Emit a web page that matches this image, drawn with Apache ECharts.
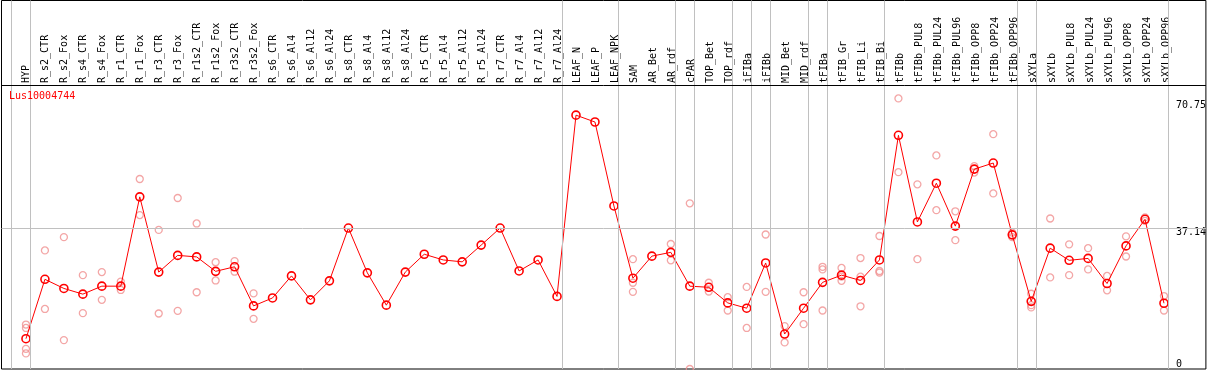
<!DOCTYPE html>
<html>
<head>
<meta charset="utf-8">
<script src="https://cdn.jsdelivr.net/npm/echarts@6/dist/echarts.min.js"></script>
<style>html,body{margin:0;padding:0;background:#fff}#c{width:1209px;height:370px}</style>
</head>
<body>
<div id="c"></div>
<script>
const title = 'Lus10004744';
const categories = ['HYP','R_s2_CTR','R_s2_Fox','R_s4_CTR','R_s4_Fox','R_r1_CTR','R_r1_Fox','R_r3_CTR','R_r3_Fox','R_r1s2_CTR','R_r1s2_Fox','R_r3s2_CTR','R_r3s2_Fox','R_s6_CTR','R_s6_Al4','R_s6_Al12','R_s6_Al24','R_s8_CTR','R_s8_Al4','R_s8_Al12','R_s8_Al24','R_r5_CTR','R_r5_Al4','R_r5_Al12','R_r5_Al24','R_r7_CTR','R_r7_Al4','R_r7_Al12','R_r7_Al24','LEAF_N','LEAF_P','LEAF_NPK','SAM','AR_Bet','AR_rdf','cPAR','TOP_Bet','TOP_rdf','iFIBa','iFIBb','MID_Bet','MID_rdf','tFIBa','tFIB_Gr','tFIB_Li','tFIB_Bi','tFIBb','tFIBb_PUL8','tFIBb_PUL24','tFIBb_PUL96','tFIBb_OPP8','tFIBb_OPP24','tFIBb_OPP96','sXYLa','sXYLb','sXYLb_PUL8','sXYLb_PUL24','sXYLb_PUL96','sXYLb_OPP8','sXYLb_OPP24','sXYLb_OPP96'];
const means = [7.97,23.6,21.2,19.7,21.8,21.8,45.3,25.5,29.9,29.5,25.7,26.9,16.6,18.7,24.5,18.2,23.2,37.1,25.3,16.8,25.5,30.2,28.7,28.2,32.6,37.1,25.8,28.7,19.1,66.8,65.0,42.9,23.9,29.7,30.7,21.8,21.5,17.4,16.0,27.9,9.2,16.0,22.8,24.7,23.3,28.7,61.5,38.7,48.9,37.6,52.6,54.2,35.3,17.8,31.8,28.6,29.1,22.5,32.4,39.4,17.3];
const replicates = [
  [11.7,10.8,5.3,4.1],[31.2,15.8],[34.7,7.6],[24.7,14.7],[25.5,18.2],[23.0,20.8],[50.0,40.5],[36.6,14.6],[45.0,15.3],[38.3,20.2],[28.1,23.3],[28.4,25.6],[19.9,13.2],
  [],[],[],[],[],[],[],[],[],[],[],[],[],[],[],[],[],[],[],
  [28.9,22.7,20.3],[],[32.9,28.6],[43.6,0.0],[22.7,20.4],[18.9,15.4],[21.6,10.8],[35.4,20.3],[11.3,7.0],[20.2,11.8],[26.9,26.2,15.4],[26.6,23.2,24.3],[29.2,24.3,16.5],[35.0,25.8,25.4],
  [71.2,51.8],[48.6,28.9],[56.2,41.8],[41.5,33.9],[53.4,51.7],[61.8,46.2],[35.9,34.7],[19.8,16.8,16.2],[39.6,24.1],[32.8,24.7],[31.8,26.2],[24.5,20.7],[34.9,29.6],[39.9,39.0],[19.2,15.4]
];
// group boundaries: number of categories before each separator
const groupBreaks = [0,1,29,32,35,36,38,39,40,42,43,46,53,54,61];
const yTickValues = [37.14, 70.75];
const yZeroTick = [0];
const gridLineValue = 37.14;

const FONT = 'DejaVu Sans Mono';
const meanData = means.map((v,i)=>[i,v]);
const repData = [];
replicates.forEach((arr,i)=>arr.forEach(v=>repData.push([i,v])));

const chart = echarts.init(document.getElementById('c'), null, {renderer:'canvas'});
const xMin = (1.5-26)/19, xMax = (1208-26)/19;
const yMax = 368.5/3.8;
const headerVal = (369-85)/3.8;

const yLabelBase = {
  show:true, inside:false, align:'left', margin:-30, color:'#000',
  fontFamily:FONT, fontSize:10
};

chart.setOption({
  animation:false,
  backgroundColor:'#fff',
  title:{text:title, left:9, top:91, padding:0,
    textStyle:{color:'#ff0000', fontFamily:FONT, fontSize:10, fontWeight:'normal'}},
  grid:[
    {left:1.5, right:1, top:0.5, bottom:1, show:true, borderColor:'#000', borderWidth:1, backgroundColor:'transparent', containLabel:false},
    {left:16.5, width:1159, top:85, height:284, show:false}
  ],
  xAxis:[
    {type:'value', gridIndex:0, min:xMin, max:xMax, show:false},
    {type:'category', gridIndex:1, data:categories, position:'top', boundaryGap:true,
      axisLine:{show:false}, axisTick:{show:false}, splitLine:{show:false},
      axisLabel:{rotate:90, margin:2, interval:0, color:'#000', fontFamily:FONT, fontSize:10}}
  ],
  yAxis:[
    {type:'value', gridIndex:0, min:0, max:yMax, position:'right',
      axisLine:{show:false}, axisTick:{show:false}, splitLine:{show:false},
      axisLabel:Object.assign({}, yLabelBase, {customValues:yTickValues, verticalAlign:'top',
        formatter:v=>String(v)})},
    {type:'value', gridIndex:0, min:0, max:yMax, position:'right',
      axisLine:{show:false}, axisTick:{show:false}, splitLine:{show:false},
      axisLabel:Object.assign({}, yLabelBase, {customValues:yZeroTick, verticalAlign:'bottom',
        formatter:v=>String(v)})},
    {type:'value', gridIndex:1, min:0, max:1, show:false}
  ],
  series:[
    {type:'line', xAxisIndex:0, yAxisIndex:0, data:[], z:1, silent:true,
      markLine:{silent:true, symbol:['none','none'], label:{show:false}, animation:false,
        lineStyle:{color:'#c0c0c0', width:1, type:'solid'},
        data:groupBreaks.map(k=>({xAxis:k-0.75})).concat([{yAxis:gridLineValue}])}},
    {type:'line', xAxisIndex:0, yAxisIndex:0, data:[], z:2, silent:true,
      markLine:{silent:true, symbol:['none','none'], label:{show:false}, animation:false,
        lineStyle:{color:'#000', width:1, type:'solid'},
        data:[{yAxis:headerVal}]}},
    {type:'scatter', xAxisIndex:0, yAxisIndex:0, data:repData, z:3, symbol:'circle', symbolSize:7,
      itemStyle:{color:'rgba(0,0,0,0)', borderColor:'#f09090', borderWidth:1.3}},
    {type:'line', xAxisIndex:0, yAxisIndex:0, data:meanData, z:4, symbol:'circle', symbolSize:8,
      lineStyle:{color:'#ff0000', width:1},
      itemStyle:{color:'rgba(0,0,0,0)', borderColor:'#ff0000', borderWidth:1.6}}
  ]
});
</script>
</body>
</html>
